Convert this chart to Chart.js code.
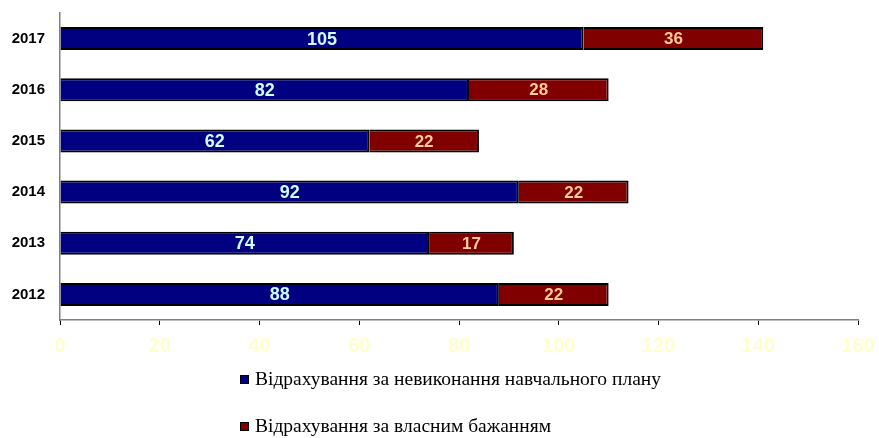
<!DOCTYPE html>
<html>
<head>
<meta charset="utf-8">
<script src="https://cdn.jsdelivr.net/npm/chart.js@4/dist/chart.umd.min.js"></script>
<style>
  html, body { margin: 0; padding: 0; background: #fff; }
  #wrap { width: 879px; height: 438px; }
</style>
</head>
<body>
<div id="wrap"><canvas id="chart" width="879" height="438"></canvas></div>
<script>
// дані з діаграми
const years = ["2017", "2016", "2015", "2014", "2013", "2012"];
const academicFail = [105, 82, 62, 92, 74, 88];
const ownWish = [36, 28, 22, 22, 17, 22];
const seriesNames = [
  "Відрахування за невиконання навчального плану",
  "Відрахування за власним бажанням"
];
const xMin = 0, xMax = 160, xStep = 20;

const SANS = 'Arial, "Liberation Sans", sans-serif';
const SERIF = '"Times New Roman", "Liberation Serif", serif';

// підписи значень всередині сегментів
const barLabels = {
  id: "barLabels",
  afterDatasetsDraw(chart) {
    const ctx = chart.ctx;
    ctx.save();
    ctx.textAlign = "center";
    ctx.textBaseline = "middle";
    chart.data.datasets.forEach((ds, i) => {
      const meta = chart.getDatasetMeta(i);
      ctx.fillStyle = ds.labelColor;
      ctx.font = `bold ${ds.labelSize}px ${SANS}`;
      meta.data.forEach((bar, j) => {
        const { x, y, base } = bar.getProps(["x", "y", "base"], true);
        ctx.fillText(String(ds.data[j]), (x + base) / 2, y + 1);
      });
    });
    ctx.restore();
  }
};

// легенда у два рядки, як в оригіналі
const stackedLegend = {
  id: "stackedLegend",
  afterDraw(chart) {
    const ctx = chart.ctx;
    ctx.save();
    ctx.font = `19.5px ${SERIF}`;
    ctx.textBaseline = "middle";
    const x0 = 240;
    const rows = [380, 427];
    chart.data.datasets.forEach((ds, i) => {
      const y = rows[i];
      ctx.fillStyle = ds.backgroundColor;
      ctx.fillRect(x0, y - 5, 9, 9);
      ctx.strokeStyle = "#000";
      ctx.lineWidth = 1;
      ctx.strokeRect(x0 + 0.5, y - 4.5, 8, 8);
      ctx.fillStyle = "#000";
      ctx.fillText(ds.label, x0 + 15, y);
    });
    ctx.restore();
  }
};

new Chart(document.getElementById("chart"), {
  type: "bar",
  data: {
    labels: years,
    datasets: [
      {
        label: seriesNames[0],
        data: academicFail,
        backgroundColor: "#000080",
        borderColor: "#000000",
        borderWidth: 2,
        labelColor: "#CCFFFF",
        labelSize: 18,
      },
      {
        label: seriesNames[1],
        data: ownWish,
        backgroundColor: "#800000",
        borderColor: "#000000",
        borderWidth: 2,
        labelColor: "#FFCC99",
        labelSize: 17,
      },
    ],
  },
  options: {
    indexAxis: "y",
    responsive: false,
    animation: false,
    layout: { padding: { top: 13, right: 21, bottom: 0, left: 0 } },
    datasets: {
      bar: { barPercentage: 0.45, categoryPercentage: 1 },
    },
    plugins: {
      legend: { display: false },
      tooltip: { enabled: false },
    },
    scales: {
      x: {
        stacked: true,
        min: xMin,
        max: xMax,
        ticks: {
          stepSize: xStep,
          color: "#FFFFCC",
          font: { family: SANS, size: 20, weight: "bold" },
          padding: 9,
        },
        grid: { drawOnChartArea: false, color: "#000", tickLength: 5 },
        border: { color: "#808080", width: 1.5 },
        afterFit: (scale) => {
          scale.height = 118;
          scale.paddingLeft = 0;
          scale.paddingRight = 0;
        },
      },
      y: {
        stacked: true,
        ticks: {
          color: "#000",
          font: { family: SANS, size: 15, weight: "bold" },
          padding: 15,
        },
        grid: { drawOnChartArea: false, drawTicks: false },
        border: { color: "#808080", width: 1.5 },
        afterFit: (scale) => {
          scale.width = 60;
          scale.paddingTop = 0;
          scale.paddingBottom = 0;
        },
      },
    },
  },
  plugins: [barLabels, stackedLegend],
});
</script>
</body>
</html>
